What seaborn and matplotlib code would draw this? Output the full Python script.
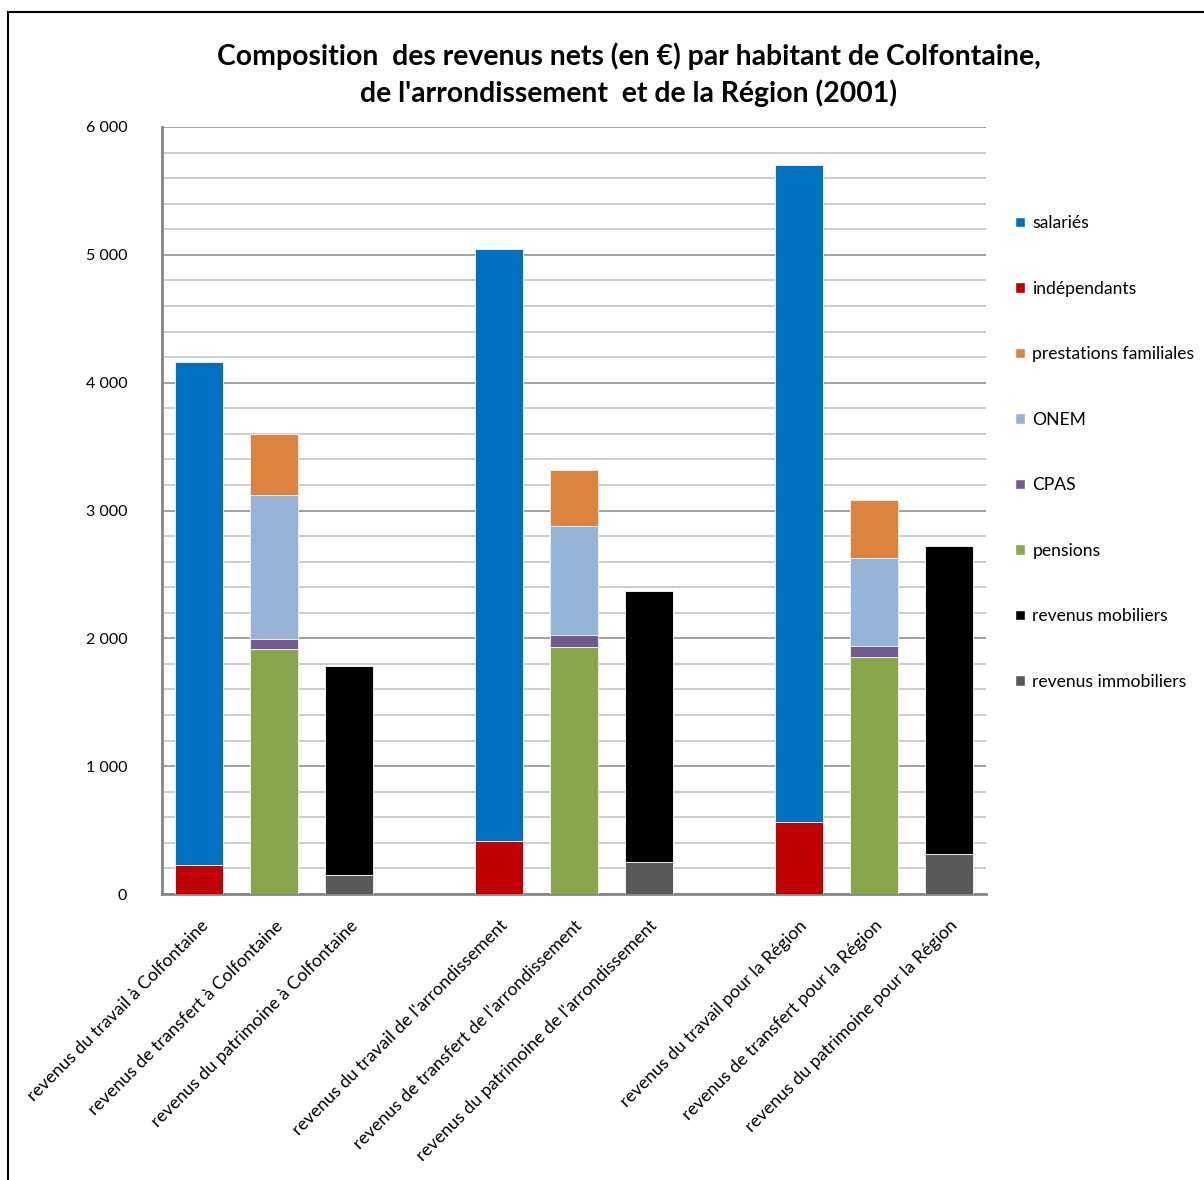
import numpy as np
import pandas as pd
import matplotlib
matplotlib.use("Agg")
import matplotlib.pyplot as plt
import matplotlib.patches as mpatches
from matplotlib.ticker import MultipleLocator, FuncFormatter
from matplotlib.transforms import ScaledTranslation
import seaborn as sns

# data (euros per inhabitant, 2001)
categories = ["revenus du travail à Colfontaine", "revenus de transfert à Colfontaine",
              "revenus du patrimoine à Colfontaine",
              "revenus du travail de l'arrondissement", "revenus de transfert de l'arrondissement",
              "revenus du patrimoine de l'arrondissement",
              "revenus du travail pour la Région", "revenus de transfert pour la Région",
              "revenus du patrimoine pour la Région"]
# series from bottom of the stack to top
immobiliers = [0, 0, 149, 0, 0, 253, 0, 0, 311]
mobiliers = [0, 0, 1635, 0, 0, 2115, 0, 0, 2409]
pensions = [0, 1917, 0, 0, 1932, 0, 0, 1852, 0]
cpas = [0, 78, 0, 0, 96, 0, 0, 91, 0]
onem = [0, 1127, 0, 0, 849, 0, 0, 686, 0]
prestations = [0, 477, 0, 0, 438, 0, 0, 453, 0]
independants = [227, 0, 0, 415, 0, 0, 566, 0, 0]
salaries = [3935, 0, 0, 4631, 0, 0, 5137, 0, 0]

series_names = ["revenus immobiliers", "revenus mobiliers", "pensions", "CPAS", "ONEM",
                "prestations familiales", "indépendants", "salariés"]
series_vals = [immobiliers, mobiliers, pensions, cpas, onem, prestations, independants, salaries]
colors = ["#595959", "#000000", "#8AA64D", "#735A91", "#95B3D7", "#DC843F", "#C00000", "#0070C0"]

# empty slots between the three groups
order = categories[0:3] + [""] + categories[3:6] + [" "] + categories[6:9]

df = pd.DataFrame(dict(zip(series_names, series_vals)))
df["cat"] = categories
cum = df[series_names].cumsum(axis=1)
for name in series_names:
    cum.loc[df[name] == 0, name] = np.nan
cum["cat"] = categories

sns.set_style("white")
plt.rcParams["font.family"] = ["Lato", "DejaVu Sans"]
plt.rcParams["text.color"] = "black"
plt.rcParams["xtick.color"] = "black"
plt.rcParams["ytick.color"] = "black"

fig = plt.figure(figsize=(12.04, 11.8), dpi=100)
ax = fig.add_axes([162/1204, 1-894/1180, (986-162)/1204, (894-127)/1180])

# stacked bars: draw cumulative totals from top series down
for name, col in reversed(list(zip(series_names, colors))):
    sns.barplot(data=cum, x="cat", y=name, order=order, color=col, width=0.64,
                edgecolor="#eeeeee", linewidth=0.7, saturation=1, ax=ax, zorder=3)

ax.set_ylim(0, 6000)
ax.yaxis.set_major_locator(MultipleLocator(1000))
ax.yaxis.set_minor_locator(MultipleLocator(200))
ax.yaxis.set_major_formatter(FuncFormatter(lambda v, p: f"{int(v):,}".replace(",", " ")))
ax.grid(axis="y", which="major", color="#9a9a9a", lw=1.3, zorder=0)
ax.grid(axis="y", which="minor", color="#c8c8c8", lw=1.3, zorder=0)
ax.set_axisbelow(True)
ax.tick_params(axis="y", which="both", length=0, pad=25, labelsize=11.5)
ax.tick_params(axis="x", length=0, pad=21)
ax.set_xticks(range(len(order)))
ax.set_xticklabels(order, rotation=45, ha="right", va="center", rotation_mode="anchor", fontsize=12.8)
for lab in ax.get_xticklabels():
    lab.set_transform(lab.get_transform() + ScaledTranslation(6/100, 0, fig.dpi_scale_trans))
ax.set_xlabel("")
ax.set_ylabel("")
for s in ["top", "right"]:
    ax.spines[s].set_visible(False)
for s in ["left", "bottom"]:
    ax.spines[s].set_color("#868686")
    ax.spines[s].set_linewidth(2)

fig.text(629/1204, 1-42/1180,
         "Composition  des revenus nets (en €) par habitant de Colfontaine,\nde l'arrondissement  et de la Région (2001)",
         ha="center", va="top", fontsize=20.4, fontweight="bold", linespacing=1.42, color="black")

handles = [mpatches.Patch(facecolor=c, label=n) for n, c in zip(series_names, colors)][::-1]
fig.legend(handles=handles, loc="upper left", bbox_to_anchor=(1015/1204, 1-215/1180),
           frameon=False, fontsize=12.6, handlelength=0.55, handleheight=0.55,
           handletextpad=0.45, labelspacing=2.83, borderaxespad=0, borderpad=0)

fig.add_artist(mpatches.Rectangle((8/1204, -0.1), 1.2, 1.1 - 12/1180, transform=fig.transFigure,
                                  fill=False, edgecolor="black", lw=1.5, clip_on=False))

fig.savefig("out.png", dpi=100)
